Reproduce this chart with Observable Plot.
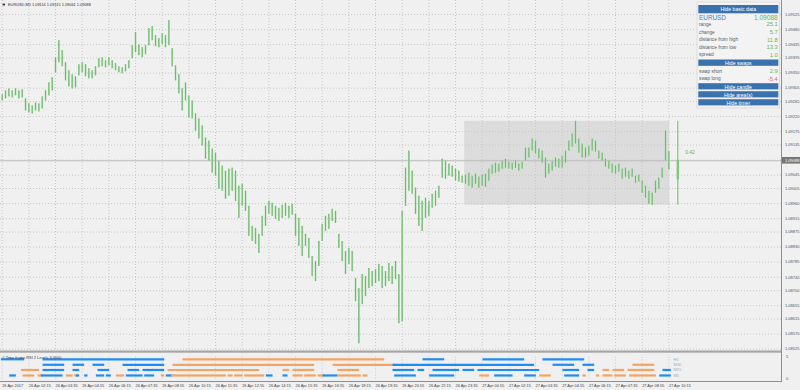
<!DOCTYPE html>
<html>
<head>
<meta charset="utf-8">
<script src="https://cdn.jsdelivr.net/npm/d3@7"></script>
<script src="https://cdn.jsdelivr.net/npm/@observablehq/plot@0.6"></script>
<style>
html,body{margin:0;padding:0;background:#f0f0f0;}
#wrap{position:relative;width:800px;height:390px;overflow:hidden;background:#f0f0f0;}
#wrap svg{position:absolute;left:0;display:block;}
</style>
</head>
<body>
<div id="wrap"></div>
<script>
// ---------- DATA ----------
const symbol = "EURUSD,M5";
const lastOHLC = [1.09114, 1.09115, 1.09061, 1.09088];
const bidPrice = 1.09088;

// bar highs / lows (one entry per 10 minutes)
const barHigh = [
1.09285,1.09297,1.09303,1.09297,1.09303,1.09297,1.09300,1.09273,1.09258,1.09252,
1.09261,1.09258,1.09279,1.09297,1.09321,1.09336,1.09396,1.09447,1.09417,1.09381,
1.09357,1.09345,1.09339,1.09375,1.09381,1.09375,1.09363,1.09357,1.09369,1.09393,
1.09396,1.09387,1.09396,1.09387,1.09378,1.09369,1.09366,1.09375,1.09387,1.09432,
1.09471,1.09435,1.09426,1.09432,1.09483,1.09489,1.09462,1.09453,1.09468,1.09462,
1.09507,1.09423,1.09372,1.09345,1.09303,1.09321,1.09282,1.09267,1.09228,1.09213,
1.09192,1.09156,1.09147,1.09123,1.09111,1.09087,1.09072,1.09057,1.09063,1.09066,
1.09057,1.09012,1.09018,1.08997,1.08952,1.08892,1.08886,1.08868,1.08922,1.08952,
1.08967,1.08961,1.08952,1.08946,1.08955,1.08961,1.08952,1.08958,1.08928,1.08916,
1.08892,1.08868,1.08856,1.08802,1.08787,1.08847,1.08898,1.08922,1.08928,1.08943,
1.08937,1.08868,1.08847,1.08817,1.08826,1.08817,1.08736,1.08706,1.08748,1.08742,
1.08766,1.08757,1.08763,1.08778,1.08772,1.08757,1.08781,1.08772,1.08787,1.08748,
1.08937,1.09066,1.09117,1.09057,1.09006,1.08982,1.08967,1.08976,1.08967,1.08988,
1.08997,1.09012,1.09093,1.09087,1.09078,1.09072,1.09063,1.09057,1.09042,1.09045,
1.09051,1.09042,1.09048,1.09039,1.09045,1.09048,1.09063,1.09075,1.09081,1.09078,
1.09087,1.09093,1.09084,1.09081,1.09087,1.09078,1.09084,1.09126,1.09126,1.09153,
1.09147,1.09123,1.09117,1.09096,1.09078,1.09087,1.09096,1.09093,1.09102,1.09117,
1.09147,1.09168,1.09206,1.09153,1.09138,1.09126,1.09132,1.09153,1.09147,1.09117,
1.09111,1.09093,1.09087,1.09078,1.09072,1.09078,1.09063,1.09066,1.09057,1.09063,
1.09042,1.09045,1.09027,1.09012,1.08997,1.08991,1.09027,1.09036,1.09066,1.09177,
1.09115];
const barLow = [
1.09267,1.09273,1.09279,1.09276,1.09282,1.09273,1.09276,1.09237,1.09231,1.09228,
1.09237,1.09234,1.09243,1.09267,1.09282,1.09297,1.09351,1.09381,1.09369,1.09327,
1.09309,1.09303,1.09306,1.09342,1.09351,1.09339,1.09333,1.09333,1.09342,1.09366,
1.09369,1.09366,1.09372,1.09363,1.09357,1.09351,1.09348,1.09354,1.09363,1.09393,
1.09411,1.09402,1.09396,1.09405,1.09432,1.09447,1.09429,1.09426,1.09435,1.09426,
1.09432,1.09369,1.09327,1.09288,1.09237,1.09267,1.09216,1.09213,1.09177,1.09153,
1.09132,1.09093,1.09087,1.09051,1.09042,1.09003,1.08997,1.08973,1.08982,1.08997,
1.08967,1.08916,1.08952,1.08937,1.08862,1.08847,1.08838,1.08811,1.08862,1.08892,
1.08928,1.08922,1.08913,1.08907,1.08916,1.08922,1.08916,1.08925,1.08862,1.08832,
1.08802,1.08832,1.08796,1.08742,1.08727,1.08772,1.08847,1.08877,1.08883,1.08907,
1.08901,1.08826,1.08787,1.08748,1.08778,1.08757,1.08667,1.08541,1.08658,1.08682,
1.08706,1.08712,1.08721,1.08727,1.08706,1.08712,1.08727,1.08718,1.08733,1.08601,
1.08607,1.08952,1.08997,1.08988,1.08928,1.08892,1.08877,1.08916,1.08922,1.08946,
1.08952,1.08976,1.09036,1.09033,1.09042,1.09039,1.09027,1.09024,1.09021,1.09018,
1.09012,1.09006,1.09018,1.09006,1.09012,1.09009,1.09027,1.09048,1.09051,1.09054,
1.09063,1.09066,1.09063,1.09060,1.09066,1.09057,1.09063,1.09087,1.09096,1.09117,
1.09108,1.09093,1.09081,1.09036,1.09048,1.09057,1.09069,1.09066,1.09066,1.09081,
1.09117,1.09129,1.09138,1.09111,1.09096,1.09096,1.09102,1.09117,1.09114,1.09093,
1.09087,1.09069,1.09063,1.09051,1.09048,1.09054,1.09033,1.09039,1.09033,1.09039,
1.09021,1.09024,1.08991,1.08976,1.08958,1.08955,1.08991,1.09003,1.09036,1.09087,
1.09061];

const priceTicks = [1.09525,1.09480,1.09435,1.09395,1.09350,1.09305,1.09265,1.09220,1.09175,1.09135,1.09090,
  1.09045,1.09005,1.08960,1.08915,1.08875,1.08830,1.08785,1.08740,1.08700,1.08655,1.08615,1.08570,1.08525];

const timeLabels = ["26 Apr 2017","26 Apr 02:15","26 Apr 03:35","26 Apr 04:55","26 Apr 06:15","26 Apr 07:35",
  "26 Apr 08:55","26 Apr 10:15","26 Apr 11:35","26 Apr 12:55","26 Apr 14:15","26 Apr 15:35","26 Apr 16:55",
  "26 Apr 18:15","26 Apr 19:35","26 Apr 20:55","26 Apr 22:15","26 Apr 23:35","27 Apr 00:55","27 Apr 02:15",
  "27 Apr 03:35","27 Apr 04:55","27 Apr 06:15","27 Apr 07:35","27 Apr 08:55","27 Apr 10:15"];

// range area (high/low box) and range marker
const rangeHigh = 1.09206, rangeLow = 1.08955;
const rangeStartBar = 277.5, rangeEndBar = 400.5;
const rangeChange = 0.00057;
const rangeRatioText = "0.42";

// info panel
const infoLabels = ["range","change","distance from high","distance from low","spread"];
const infoValues = ["25.1","5.7","11.8","13.3","1.0"];
const swapLabels = ["swap short","swap long"];
const swapValues = ["2.9","-5.4"];

// indicator sub-window
const indicatorName = "# Time frame RSI 2 Levels 3.0000";
const tfRows = ["H1","M30","M15","M5"];
const h1Seg = [[0,13,"up"],[25,97,"up"],[109,229,"down"],[253,265,"up"],[289,313,"up"],[325,349,"up"]];
const m30Seg = [[25,37,"up"],[43,49,"up"],[55,61,"up"],[73,97,"up"],[103,187,"down"],[199,235,"down"],
  [235,319,"up"],[331,343,"up"],[349,355,"up"],[379,391,"down"]];
const m15Seg = [[12,22,"down"],[25,37,"up"],[43,46,"up"],[58,64,"up"],[76,82,"up"],[85,97,"up"],[100,154,"down"],
  [169,172,"down"],[175,187,"down"],[202,214,"down"],[235,247,"up"],[250,253,"up"],[259,274,"up"],[277,283,"up"],
  [286,322,"up"],[337,346,"up"],[352,355,"up"],[361,364,"down"],[367,373,"down"],[376,391,"down"],[397,401,"up"]];
const m5Seg = [[5,8,"up"],[13,19,"down"],[22,24,"down"],[24,36,"up"],[39,42,"down"],[44,45,"down"],[45,46,"up"],
  [50,51,"up"],[57,61,"up"],[63,65,"up"],[69,73,"down"],[75,84,"up"],[86,91,"up"],[96,97,"down"],[99,102,"up"],
  [102,110,"down"],[111,128,"down"],[129,134,"down"],[136,138,"down"],[140,144,"down"],[146,157,"down"],[159,162,"up"],
  [169,171,"up"],[175,180,"down"],[182,188,"down"],[190,193,"down"],[193,201,"up"],[202,208,"down"],[209,215,"down"],
  [217,219,"down"],[236,248,"up"],[257,259,"up"],[260,271,"up"],[287,289,"down"],[290,292,"down"],[296,306,"up"],
  [314,320,"up"],[323,329,"down"],[338,346,"up"],[349,350,"down"],[357,358,"down"],[361,366,"down"],[368,374,"down"],
  [377,380,"down"],[380,392,"down"],[395,401,"up"]];

// ---------- BUILD ----------
const FONT = "'Liberation Sans', Arial, sans-serif";
const wrap = document.getElementById("wrap");
const xDomain = [-1.02, 467.6];
const bars = barHigh.map((h, j) => ({i: j * 2, high: h, low: barLow[j]}));
const timeTicks = timeLabels.map((label, k) => ({i: k * 16, label}));
const tickBars = timeTicks.map(d => d.i);
const gridStyle = {stroke: "#c8c8c8", strokeOpacity: 1, strokeDasharray: "1,2"};
const green = "#5cb85c";

const main = Plot.plot({
  width: 800, height: 351,
  marginLeft: 0, marginRight: 19, marginTop: 0, marginBottom: 1,
  style: {background: "transparent", fontFamily: FONT, overflow: "visible"},
  x: {domain: xDomain, axis: null},
  y: {domain: [1.08521, 1.09567], axis: null},
  marks: [
    Plot.rect([{x1: rangeStartBar, x2: rangeEndBar, y1: rangeLow, y2: rangeHigh}],
      {x1: "x1", x2: "x2", y1: "y1", y2: "y2", fill: "#dcdcdc"}),
    Plot.gridY(priceTicks, gridStyle),
    Plot.gridX(tickBars, gridStyle),
    Plot.ruleY([bidPrice], {stroke: "#bdbdbd", strokeWidth: 1}),
    Plot.ruleX(bars, {x: "i", y1: "low", y2: "high", stroke: "#b3dbb3", strokeWidth: 1.8}),
    Plot.ruleX(bars, {x: "i", y1: "low", y2: "high", stroke: "#62b462", strokeWidth: 0.85}),
    Plot.ruleX([405.4], {x: d => d, y1: rangeLow, y2: rangeHigh, stroke: green, strokeWidth: 0.9}),
    Plot.ruleX([405.4], {x: d => d, y1: bidPrice - rangeChange, y2: bidPrice, stroke: "#7cc87c", strokeWidth: 2.4}),
    Plot.text([rangeRatioText], {x: 409.8, y: 1.09113, text: d => d, textAnchor: "start", fill: green, fontSize: 5}),
    Plot.axisY(priceTicks, {anchor: "right", tickSize: 0, tickPadding: 3.5, fontSize: 4,
      tickFormat: d3.format(".5f"), color: "#505050", label: null})
  ]
});
main.style.top = "0px";
wrap.appendChild(main);

const rowLevel = {H1: 4.48, M30: 3.23, M15: 2.05, M5: 0.8};
const segments = [
  ...h1Seg.map(s => ({tf: "H1", start: s[0], end: s[1], dir: s[2]})),
  ...m30Seg.map(s => ({tf: "M30", start: s[0], end: s[1], dir: s[2]})),
  ...m15Seg.map(s => ({tf: "M15", start: s[0], end: s[1], dir: s[2]})),
  ...m5Seg.map(s => ({tf: "M5", start: s[0], end: s[1], dir: s[2]}))
];

const ind = Plot.plot({
  width: 800, height: 39,
  marginLeft: 0, marginRight: 19, marginTop: 5.5, marginBottom: 11.5,
  style: {background: "transparent", fontFamily: FONT, overflow: "visible"},
  x: {domain: xDomain, axis: null},
  y: {domain: [0, 5], axis: null},
  color: {domain: ["up", "down"], range: ["#1e8cf5", "#f4a462"]},
  marks: [
    Plot.gridX(tickBars, gridStyle),
    Plot.ruleY(segments, {y: d => rowLevel[d.tf], x1: d => d.start - 0.5, x2: d => d.end + 0.5,
      stroke: "dir", strokeWidth: 2.2}),
    Plot.text(tfRows, {x: 402.8, y: d => rowLevel[d], text: d => d, textAnchor: "start", fill: "#a8a8a8", fontSize: 4}),
    Plot.text([indicatorName], {frameAnchor: "top-left", dx: 2, dy: 0.8, lineAnchor: "middle",
      text: d => d, textAnchor: "start", fill: "#404040", fontSize: 3.9}),
    Plot.axisY([0, 5], {anchor: "right", tickSize: 0, tickPadding: 4.5, fontSize: 4, color: "#505050", label: null}),
    Plot.text(timeTicks, {x: "i", text: "label", frameAnchor: "bottom", lineAnchor: "middle", dy: 7,
      textAnchor: "start", fill: "#444", fontSize: 3.9})
  ]
});
ind.style.top = "351px";
wrap.appendChild(ind);

// ---------- OVERLAY (borders, header, bid label, info panel) ----------
const ov = d3.select(wrap).append("svg").attr("width", 800).attr("height", 390)
  .style("top", "0px").style("pointer-events", "none").attr("font-family", FONT);

ov.append("rect").attr("x", 0).attr("y", 350.5).attr("width", 782).attr("height", 2.2).attr("fill", "#a6a6a6");
ov.append("line").attr("x1", 0).attr("x2", 782).attr("y1", 381.5).attr("y2", 381.5).attr("stroke", "#8e8e8e");
ov.append("line").attr("x1", 781.5).attr("x2", 781.5).attr("y1", 0).attr("y2", 382).attr("stroke", "#8e8e8e");

// header
ov.append("rect").attr("x", 2.6).attr("y", 3.6).attr("width", 2.4).attr("height", 1.8).attr("fill", "#333");
ov.append("text").attr("x", 8).attr("y", 4.6).attr("dominant-baseline", "central").attr("font-size", 3.9)
  .attr("fill", "#333").text(symbol + "  " + lastOHLC.map(d => d.toFixed(5)).join(" "));

// bid label on price axis
const yb = main.scale("y").apply(bidPrice);
ov.append("rect").attr("x", 782).attr("y", yb - 3.3).attr("width", 18).attr("height", 6.6).attr("fill", "#777");
ov.append("text").attr("x", 785).attr("y", yb).attr("dominant-baseline", "central").attr("font-size", 4)
  .attr("fill", "#fff").text(bidPrice.toFixed(5));

// info panel
const pg = ov.append("g");
pg.append("rect").attr("x", 697).attr("y", 2).attr("width", 82.5).attr("height", 106).attr("fill", "#f3f3f3")
  .attr("stroke", "#dddddd");
function button(y, h, label) {
  pg.append("rect").attr("x", 698.3).attr("y", y).attr("width", 80).attr("height", h).attr("fill", "#3a72ad");
  pg.append("text").attr("x", 738.3).attr("y", y + h / 2 + 0.2).attr("text-anchor", "middle")
    .attr("dominant-baseline", "central").attr("fill", "#fff").attr("font-size", 5.2).text(label);
}
button(5, 8.3, "Hide basic data");
pg.append("text").attr("x", 699).attr("y", 17.2).attr("dominant-baseline", "central").attr("font-size", 6.4)
  .attr("fill", "#3f7fcf").text(symbol.split(",")[0]);
pg.append("text").attr("x", 777.8).attr("y", 17.2).attr("dominant-baseline", "central").attr("text-anchor", "end")
  .attr("font-size", 6.6).attr("fill", green).text(bidPrice.toFixed(5));
const rowY = [24.3, 32, 39.6, 47.2, 54.7];
infoLabels.forEach((l, k) => {
  pg.append("text").attr("x", 699).attr("y", rowY[k]).attr("dominant-baseline", "central").attr("font-size", 4.8)
    .attr("fill", "#606060").text(l);
  pg.append("text").attr("x", 777.8).attr("y", rowY[k]).attr("dominant-baseline", "central").attr("text-anchor", "end")
    .attr("font-size", 5.8).attr("fill", green).text(infoValues[k]);
});
button(59.5, 6.3, "Hide swaps");
const swapY = [71, 78.7];
swapLabels.forEach((l, k) => {
  pg.append("text").attr("x", 699).attr("y", swapY[k]).attr("dominant-baseline", "central").attr("font-size", 4.8)
    .attr("fill", "#606060").text(l);
  pg.append("text").attr("x", 777.8).attr("y", swapY[k]).attr("dominant-baseline", "central").attr("text-anchor", "end")
    .attr("font-size", 5.8).attr("fill", +swapValues[k] < 0 ? "#e35f80" : green).text(swapValues[k]);
});
button(83.2, 6.2, "Hide candle");
button(91.2, 6.2, "Hide area(s)");
button(99.2, 6.2, "Hide timer");
</script>
</body>
</html>
